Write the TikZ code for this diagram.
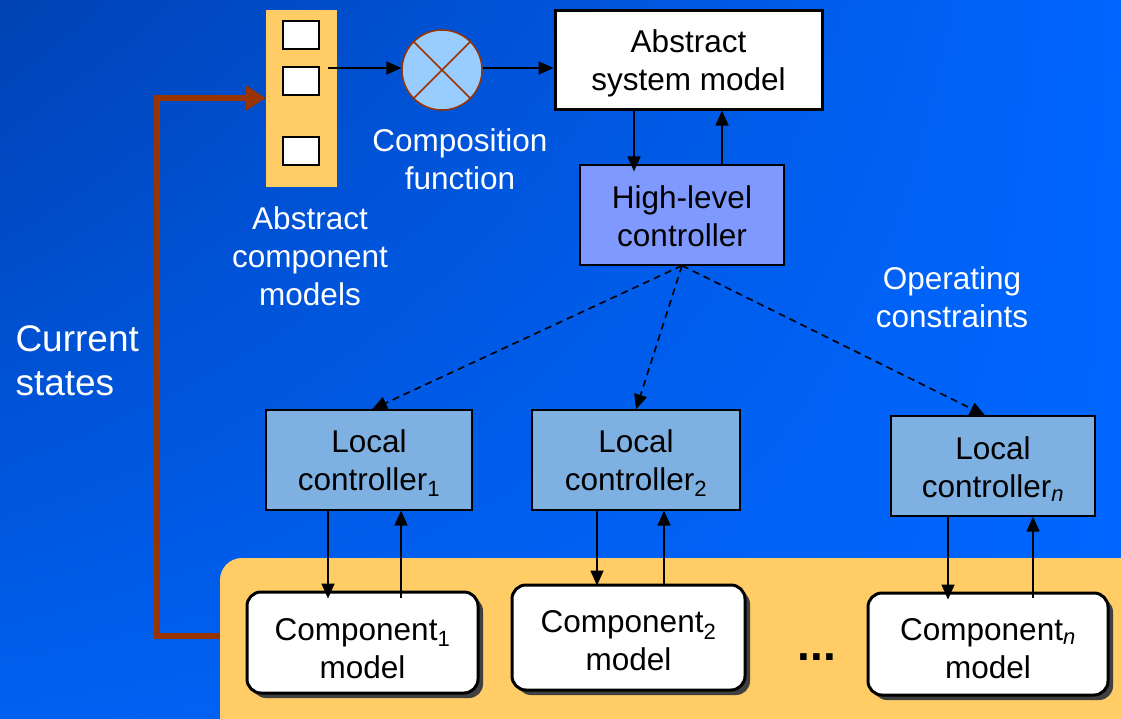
\documentclass[tikz,border=0pt]{standalone}
\usepackage{fontspec}
\setmainfont{Liberation Sans}
\usetikzlibrary{arrows.meta,shadows,shadings}
\definecolor{bgdark}{RGB}{0,66,180}
\definecolor{bglight}{RGB}{0,102,255}
\definecolor{bgmid}{RGB}{0,96,240}
\definecolor{orng}{RGB}{255,204,102}
\definecolor{hlcfill}{RGB}{128,153,255}
\definecolor{lcfill}{RGB}{126,176,226}
\definecolor{circfill}{RGB}{153,204,255}
\definecolor{brown}{RGB}{153,51,0}
\definecolor{shadowgray}{RGB}{64,64,64}
\tikzset{
  txt/.style={font=\fontsize{31.5}{38}\selectfont, align=center},
  wtxt/.style={txt, text=white},
  lab/.style n args={2}{label={[txt, yshift=#1]center:{#2}}},
  asmbox/.style={draw=black, line width=3pt, fill=white, minimum width=267pt, minimum height=99pt},
  hlcbox/.style={draw=black, line width=1.2pt, fill=hlcfill, minimum width=204pt, minimum height=100pt},
  lcbox/.style={draw=black, line width=1.2pt, fill=lcfill, minimum width=206pt, minimum height=100pt},
  compbox/.style={draw=black, line width=3pt, fill=white, rounded corners=14pt, minimum height=101pt,
     drop shadow={shadow xshift=5pt, shadow yshift=-5pt, fill=shadowgray, opacity=1}},
  sq/.style={draw=black, line width=1.5pt, fill=white, minimum width=36pt, minimum height=28pt, inner sep=0pt},
  arr/.style={line width=1.6pt, -{Triangle[length=15pt,width=13pt]}},
  darr/.style={line width=1.6pt, dash pattern=on 7pt off 5pt, -{Triangle[length=15pt,width=13pt]}},
  brarr/.style={line width=6pt, brown, -{Triangle[length=20pt,width=24pt]}},
}
\begin{document}
\begin{tikzpicture}[x=1pt,y=-1pt]
\useasboundingbox (0,0) rectangle (1121,718);
\shade[upper left=bgdark, upper right=bglight, lower left=bgmid, lower right=bglight] (0,0) rectangle (1121,718);
% orange panels
\fill[orng, rounded corners=22pt] (220,558) rectangle (1150,750);
\node[fill=orng, minimum width=71pt, minimum height=177pt, inner sep=0pt] (acm) at (301.5,98.5) {};
\node[sq] (s1) at (301,35) {};
\node[sq] (s2) at (301,81) {};
\node[sq] (s3) at (301,151) {};
% composition circle
\node[circle, draw=brown, line width=1.5pt, fill=circfill, minimum size=80pt, inner sep=0pt] (cf) at (442,70) {};
\draw[brown, line width=1.5pt] (cf.north west) -- (cf.south east) (cf.north east) -- (cf.south west);
% main boxes
\node[asmbox, lab={-4pt}{Abstract\\system model}] (asm) at (688.5,59.5) {};
\node[hlcbox, lab={-1pt}{High-level\\controller}] (hlc) at (682,215) {};
\node[lcbox, lab={-3pt}{Local\\controller\textsubscript{1}}] (lc1) at (369,460) {};
\node[lcbox, minimum width=208pt, lab={-3pt}{Local\\controller\textsubscript{2}}] (lc2) at (636,460) {};
\node[lcbox, minimum width=204pt, lab={-3pt}{Local\\controller\textsubscript{\itshape n}}] (lcn) at (993,466) {};
\node[compbox, minimum width=231pt, lab={-6pt}{Component\textsubscript{1}\\model}] (c1) at (362.5,642.5) {};
\node[compbox, minimum width=233pt, minimum height=105pt, lab={-3pt}{Component\textsubscript{2}\\model}] (c2) at (628.5,637.5) {};
\node[compbox, minimum width=240pt, minimum height=102pt, lab={-5pt}{Component\textsubscript{\itshape n}\\model}] (cn) at (988,644) {};
\node[font=\fontsize{46}{46}\selectfont\bfseries] (dots) at (817,657) {...};
% labels
\node[wtxt] (lcf) at (460,159) {Composition\\function};
\node[wtxt] (lacm) at (310,256) {Abstract\\component\\models};
\node[wtxt] (loc) at (952,297) {Operating\\constraints};
\node[wtxt, font=\fontsize{37}{44}\selectfont, align=left, anchor=west] (lcs) at (12,361) {Current\\states};
% connectors
\coordinate (src) at (328,68);
\draw[arr] (src) -- (cf.west |- src);
\draw[arr] (cf.east |- src) -- (asm.west |- src);
\coordinate (x1) at (634,0);
\coordinate (x2) at (722,0);
\draw[arr] (asm.south -| x1) -- ([yshift=-7pt]hlc.north -| x1);
\draw[arr] ([yshift=-2pt]hlc.north -| x2) -- (asm.south -| x2);
\draw[darr] (hlc.south) -- ([xshift=3pt]lc1.north);
\draw[darr] (hlc.south) -- (lc2.north);
\draw[darr] (hlc.south) -- ([xshift=-8pt]lcn.north);
% local loops
\coordinate (a1) at (328,0); \coordinate (b1) at (401,0);
\coordinate (a2) at (597,0); \coordinate (b2) at (664,0);
\coordinate (an) at (948,0); \coordinate (bn) at (1033,0);
\draw[arr] (lc1.south -| a1) -- ([yshift=-8pt]c1.north -| a1);
\draw[arr] ([yshift=-7pt]c1.north -| b1) -- (lc1.south -| b1);
\draw[arr] (lc2.south -| a2) -- ([yshift=-2pt]c2.north -| a2);
\draw[arr] ([yshift=-2pt]c2.north -| b2) -- (lc2.south -| b2);
\draw[arr] (lcn.south -| an) -- ([yshift=-8pt]cn.north -| an);
\draw[arr] ([yshift=-6pt]cn.north -| bn) -- (lcn.south -| bn);
% current states feedback
\coordinate (fb) at (220,636);
\draw[brarr] (fb) -- (157,636) -- (157,98) -- (acm.west |- 0,98);
\end{tikzpicture}
\end{document}
